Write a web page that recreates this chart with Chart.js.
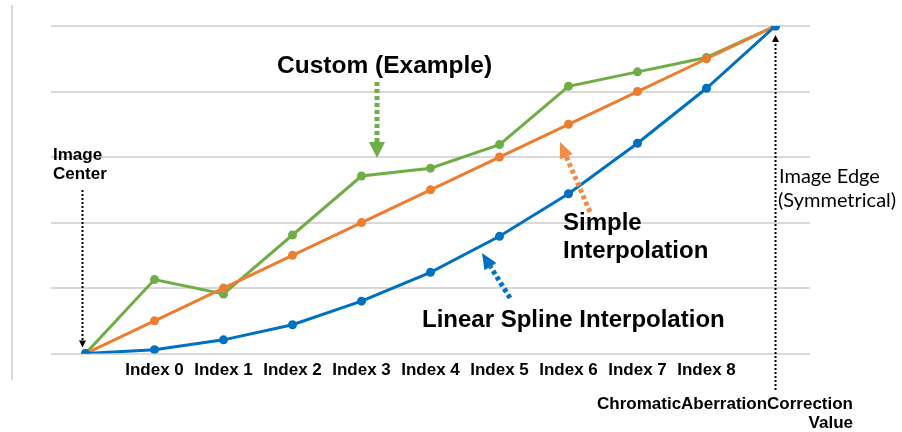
<!DOCTYPE html>
<html>
<head>
<meta charset="utf-8">
<script src="https://cdn.jsdelivr.net/npm/chart.js@4.4.1/dist/chart.umd.min.js"></script>
<style>
  html, body { margin: 0; padding: 0; background: #fff; }
  #wrap { position: relative; width: 902px; height: 432px; }
</style>
</head>
<body>
<div id="wrap"><canvas id="chart" width="902" height="432"></canvas></div>
<script>
  // categories along the x axis (first = image center, last = image edge)
  var categories = ["", "Index 0", "Index 1", "Index 2", "Index 3", "Index 4", "Index 5", "Index 6", "Index 7", "Index 8", ""];

  // series
  var customValues = [0, 1.13, 0.91, 1.81, 2.71, 2.83, 3.19, 4.08, 4.3, 4.52, 5];
  var simpleValues = [0, 0.5, 1, 1.5, 2, 2.5, 3, 3.5, 4, 4.5, 5];
  var splineValues = [0, 0.06, 0.21, 0.44, 0.8, 1.24, 1.79, 2.44, 3.21, 4.05, 5];

  var GREEN = "#70AD47", ORANGE = "#ED7D31", BLUE = "#0070C0";

  function dottedLine(ctx, x1, y1, x2, y2, color, width, dash) {
    ctx.save();
    ctx.strokeStyle = color;
    ctx.lineWidth = width;
    ctx.setLineDash(dash);
    ctx.beginPath();
    ctx.moveTo(x1, y1);
    ctx.lineTo(x2, y2);
    ctx.stroke();
    ctx.restore();
  }

  // arrow from tail (x1,y1) to tip (x2,y2)
  function arrow(ctx, x1, y1, x2, y2, color, width, dash, headLen, headW) {
    var ang = Math.atan2(y2 - y1, x2 - x1);
    var bx = x2 - Math.cos(ang) * headLen, by = y2 - Math.sin(ang) * headLen;
    dottedLine(ctx, x1, y1, bx, by, color, width, dash);
    ctx.save();
    ctx.fillStyle = color;
    ctx.beginPath();
    ctx.moveTo(x2, y2);
    ctx.lineTo(bx + Math.sin(ang) * headW / 2, by - Math.cos(ang) * headW / 2);
    ctx.lineTo(bx - Math.sin(ang) * headW / 2, by + Math.cos(ang) * headW / 2);
    ctx.closePath();
    ctx.fill();
    ctx.restore();
  }

  var annotations = {
    id: "annotations",
    beforeDraw: function (chart) {
      var ctx = chart.ctx;
      // frame line at left
      ctx.save();
      ctx.strokeStyle = "#d9d9d9";
      ctx.lineWidth = 2;
      ctx.beginPath();
      ctx.moveTo(12, 5);
      ctx.lineTo(12, 380);
      ctx.stroke();
      ctx.restore();
    },
    afterDraw: function (chart) {
      var ctx = chart.ctx;
      var x = chart.scales.x, y = chart.scales.y;
      var x0 = x.getPixelForValue(0), xN = x.getPixelForValue(categories.length - 1);
      var yBottom = y.getPixelForValue(0), yTop = y.getPixelForValue(5);

      // image center marker
      arrow(ctx, x0 - 3, 190, x0 - 3, yBottom - 6, "#000", 2, [2, 2], 7, 7);
      // image edge marker
      arrow(ctx, xN, 390, xN, yTop + 9, "#000", 2, [2, 2], 7, 7);

      // series call-outs
      arrow(ctx, 377, 82, 377, 158, GREEN, 5, [4, 3], 16, 16);
      arrow(ctx, 590, 212, 560, 142, "#F08C4A", 5, [4, 3], 16, 14);
      arrow(ctx, 510, 298, 482, 253, BLUE, 5, [4, 3], 16, 14);

      ctx.save();
      ctx.fillStyle = "#000";
      ctx.textBaseline = "middle";
      ctx.textAlign = "left";
      ctx.font = "bold 24.5px 'Liberation Sans', Arial, sans-serif";
      ctx.fillText("Custom (Example)", 277, 66);
      ctx.font = "bold 24px 'Liberation Sans', Arial, sans-serif";
      ctx.fillText("Linear Spline Interpolation", 422, 320);
      ctx.fillText("Simple", 563, 223);
      ctx.fillText("Interpolation", 563, 251);

      ctx.font = "bold 17px 'Liberation Sans', Arial, sans-serif";
      ctx.fillText("Image", 53, 155);
      ctx.fillText("Center", 53, 174);

      ctx.textAlign = "right";
      ctx.fillText("ChromaticAberrationCorrection", 853, 404);
      ctx.fillText("Value", 853, 423);

      ctx.textAlign = "left";
      ctx.font = "20px Lato, 'Open Sans', sans-serif";
      ctx.fillText("Image Edge", 779, 177);
      ctx.fillText("(Symmetrical)", 778, 201);
      ctx.restore();
    }
  };

  function series(data, color) {
    return {
      data: data,
      borderColor: color,
      backgroundColor: color,
      borderWidth: 3,
      pointRadius: 4.5,
      pointHoverRadius: 4.5,
      pointBorderWidth: 0,
      tension: 0
    };
  }

  var ctx = document.getElementById("chart").getContext("2d");
  var myChart = new Chart(ctx, {
    type: "line",
    data: {
      labels: categories,
      datasets: [
        series(splineValues, BLUE),
        series(simpleValues, ORANGE),
        series(customValues, GREEN)
      ]
    },
    options: {
      responsive: false,
      animation: false,
      layout: { padding: { left: 51, right: 92, top: 26, bottom: 44 } },
      plugins: { legend: { display: false }, tooltip: { enabled: false } },
      scales: {
        x: {
          offset: true,
          grid: { display: false, drawTicks: false },
          border: { display: false },
          ticks: {
            padding: 7,
            maxRotation: 0,
            autoSkip: false,
            color: "#000",
            font: { family: "'Liberation Sans', Arial, sans-serif", size: 17, weight: "bold" }
          }
        },
        y: {
          min: 0,
          max: 5,
          grid: { color: "#d9d9d9", lineWidth: 2, drawTicks: false },
          border: { display: false },
          ticks: { display: false, stepSize: 1 }
        }
      }
    },
    plugins: [annotations]
  });
</script>
</body>
</html>
